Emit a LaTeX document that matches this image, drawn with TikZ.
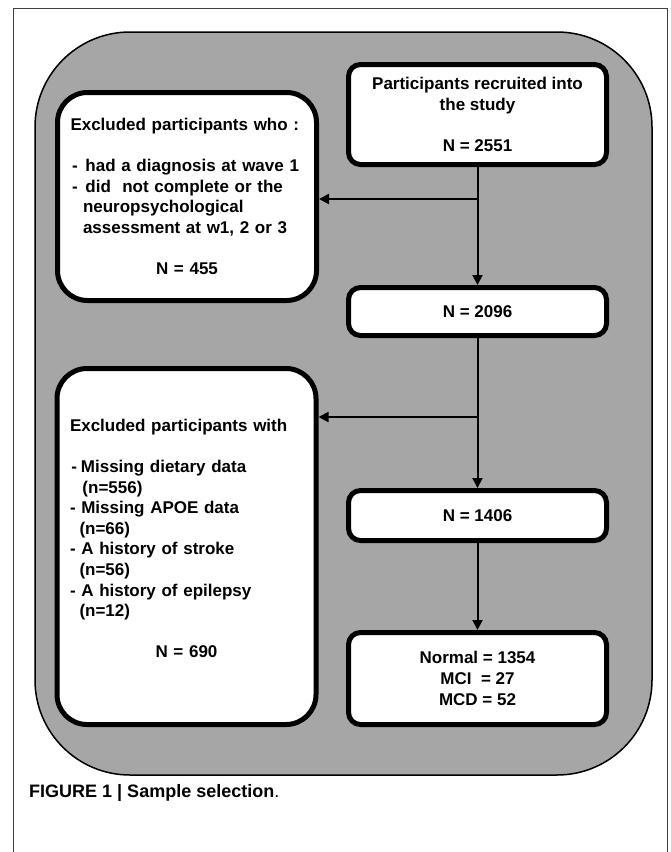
\documentclass[tikz,border=0pt]{standalone}
\usepackage{fontspec}
\setmainfont{Liberation Sans}
\usetikzlibrary{arrows.meta,positioning}
\definecolor{my_gray}{RGB}{166,166,166}
\tikzset{
  flownode/.style = {draw=black, line width=5pt, fill=white, text=black,
  font=\fontsize{17}{20.6}\selectfont\bfseries},
  box_n/.style = {flownode, rounded corners=12pt, align=center, minimum width=258pt, inner sep=4pt},
  box_x/.style = {flownode, rounded corners=30pt, align=left, text width=233pt, inner xsep=13pt, inner ysep=4pt}
}

\begin{document}
\begin{tikzpicture}[x=1pt,y=-1pt,
        arr/.style={line width=2pt, -{Triangle[length=10pt,width=10pt]}},
        line/.style={line width=2pt}]
    \useasboundingbox (0,0) rectangle (671,852);
    \draw[line width=0.8pt, draw=black!75] (13,852) -- (13,8) -- (667,8) -- (667,852);
    \draw[fill=my_gray, line width=1.5pt, rounded corners=95pt] (35,32) rectangle (652,775);

    \node [box_n, minimum height=100pt] (recruited) at (477.5,114.5)
        {Participants recruited into\\the study\\[20.6pt]N = 2551};
    \node [box_n, minimum height=48pt] (n2096) at (477.5,311.5) {N = 2096};
    \node [box_n, minimum height=50pt] (n1406) at (477.5,515.5) {N = 1406};
    \node [box_n, minimum height=92pt] (final) at (477.5,678.5)
        {Normal = 1354\\MCI\ \ = 27\\MCD = 52};

    \node [box_x, minimum height=208pt] (excl_a) at (187,196.5)
        {Excluded participants who :\\[20.6pt]
         \hspace*{1.5pt}-\hspace*{7.8pt}had a diagnosis at wave 1\\
         \hspace*{1.5pt}-\hspace*{7.8pt}did\ \ not complete or the\\
         \hspace*{12.5pt}neuropsychological\\
         \hspace*{12.5pt}assessment at w1, 2 or 3\\[20.6pt]
         \makebox[\linewidth]{N = 455}};
    \node [box_x, minimum height=356pt] (excl_b) at (186.5,546.5)
        {Excluded participants with\\[20.6pt]
         \hspace*{1.5pt}-\hspace*{3.8pt}Missing dietary data\\
         \hspace*{12.5pt}(n=556)\\
         - Missing APOE data\\
         \hspace*{9.5pt}(n=66)\\
         - A history of stroke\\
         \hspace*{9.5pt}(n=56)\\
         - A history of epilepsy\\
         \hspace*{9.5pt}(n=12)\\[20.6pt]
         \makebox[\linewidth]{N = 690}\\[-4.6pt]\mbox{}};

    \coordinate (split_a) at (477.5,199);
    \coordinate (split_b) at (477.5,417);
    \draw[arr] (recruited.south) -- (n2096.north);
    \draw[arr] (split_a) -- (excl_a.east |- split_a);
    \draw[arr] (n2096.south) -- (n1406.north);
    \draw[arr] (split_b) -- (excl_b.east |- split_b);
    \draw[arr] (n1406.south) -- (final.north);

    \node [anchor=west, inner sep=0pt, font=\fontsize{18}{21}\selectfont] (caption) at (29,793)
        {\bfseries FIGURE 1 | Sample selection\mdseries.};
\end{tikzpicture}
\end{document}
